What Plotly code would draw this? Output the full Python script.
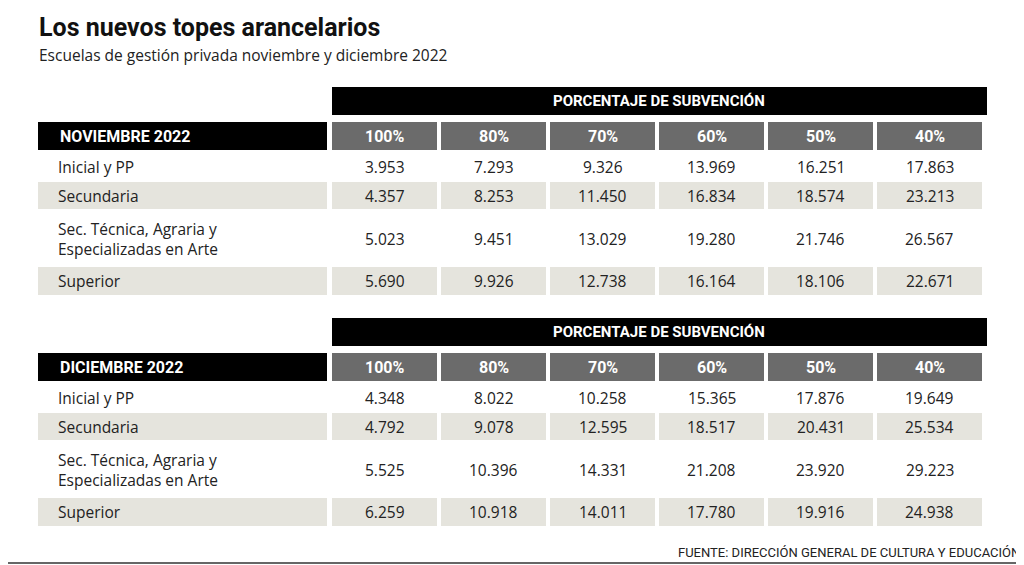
import plotly.graph_objects as go

# Datos
subvencion = ["100%", "80%", "70%", "60%", "50%", "40%"]
niveles = ["Inicial y PP", "Secundaria", "Sec. Técnica, Agraria y<br>Especializadas en Arte", "Superior"]
noviembre = [
    ["3.953", "7.293", "9.326", "13.969", "16.251", "17.863"],
    ["4.357", "8.253", "11.450", "16.834", "18.574", "23.213"],
    ["5.023", "9.451", "13.029", "19.280", "21.746", "26.567"],
    ["5.690", "9.926", "12.738", "16.164", "18.106", "22.671"],
]
diciembre = [
    ["4.348", "8.022", "10.258", "15.365", "17.876", "19.649"],
    ["4.792", "9.078", "12.595", "18.517", "20.431", "25.534"],
    ["5.525", "10.396", "14.331", "21.208", "23.920", "29.223"],
    ["6.259", "10.918", "14.011", "17.780", "19.916", "24.938"],
]
tablas = [("NOVIEMBRE 2022", noviembre), ("DICIEMBRE 2022", diciembre)]

GRIS = "#e5e4dd"
GRIS_OSC = "#6b6b6b"
FONT = "Liberation Sans Narrow, Roboto, sans-serif"
BODY = "Open Sans, DejaVu Sans, sans-serif"

fig = go.Figure()
shapes = []
ann = []

def rect(x0, y0, x1, y1, color):
    shapes.append(dict(type="rect", x0=x0, x1=x1, y0=y0, y1=y1, fillcolor=color, line=dict(width=0), layer="below"))

def text(x, y, s, size=15, color="#222", anchor="left", bold=False, family=BODY):
    ann.append(dict(x=x, y=y, text=f"<b>{s}</b>" if bold else s, showarrow=False, xanchor=anchor,
                    yanchor="middle", font=dict(size=size, color=color, family=family)))

col_x0 = [332 + 109 * i for i in range(6)]
col_w = 105
rows_h = [(0, 28), (29, 56), (58, 113), (114, 142)]  # relative to first data row top

for t, (nombre, datos) in enumerate(tablas):
    off = 231 * t
    rect(332, 87 + off, 987, 115 + off, "black")
    text(659, 101 + off, "PORCENTAJE DE SUBVENCIÓN", size=15, color="white", anchor="center", bold=True, family=FONT)
    rect(38, 122 + off, 327, 150 + off, "black")
    text(58, 136 + off, nombre, size=16, color="white", bold=True, family=FONT)
    for i, s in enumerate(subvencion):
        rect(col_x0[i], 122 + off, col_x0[i] + col_w, 150 + off, GRIS_OSC)
        text(col_x0[i] + col_w / 2, 136 + off, s, size=16, color="white", anchor="center", bold=True, family=FONT)
    for r, nivel in enumerate(niveles):
        y0 = 153 + off + rows_h[r][0]
        y1 = 153 + off + rows_h[r][1]
        ym = (y0 + y1) / 2
        if r % 2 == 1:
            rect(38, y0, 327, y1, GRIS)
            for i in range(6):
                rect(col_x0[i], y0, col_x0[i] + col_w, y1, GRIS)
        ann.append(dict(x=56, y=ym, text=nivel, showarrow=False, xanchor="left", yanchor="middle", align="left",
                        font=dict(size=15.5, color="#222", family=BODY)))
        for i in range(6):
            text(col_x0[i] + col_w / 2, ym, datos[r][i], size=15.5, anchor="center")

# Título y fuente
text(37, 27, "Los nuevos topes arancelarios", size=25, color="#111", bold=True, family=FONT)
text(37, 55, "Escuelas de gestión privada noviembre y diciembre 2022", size=15.5, color="#222")
text(1022, 552, "FUENTE: DIRECCIÓN GENERAL DE CULTURA Y EDUCACIÓN", size=13, color="#222", anchor="right", family=FONT)
shapes.append(dict(type="line", x0=0, x1=1040, y0=1.5, y1=1.5, line=dict(color="black", width=3)))
shapes.append(dict(type="line", x0=0, x1=1040, y0=563, y1=563, line=dict(color="#333", width=1.5)))

# la página añade 8px de margen al cuerpo: desplazar los ejes para compensar
fig.update_layout(
    width=1024, height=565, margin=dict(l=0, r=0, t=0, b=0),
    paper_bgcolor="white", plot_bgcolor="white", showlegend=False,
    xaxis=dict(visible=False, range=[8, 1032], fixedrange=True),
    yaxis=dict(visible=False, range=[573, 8], fixedrange=True),
    shapes=shapes, annotations=ann,
)
fig.write_html("out.html")
